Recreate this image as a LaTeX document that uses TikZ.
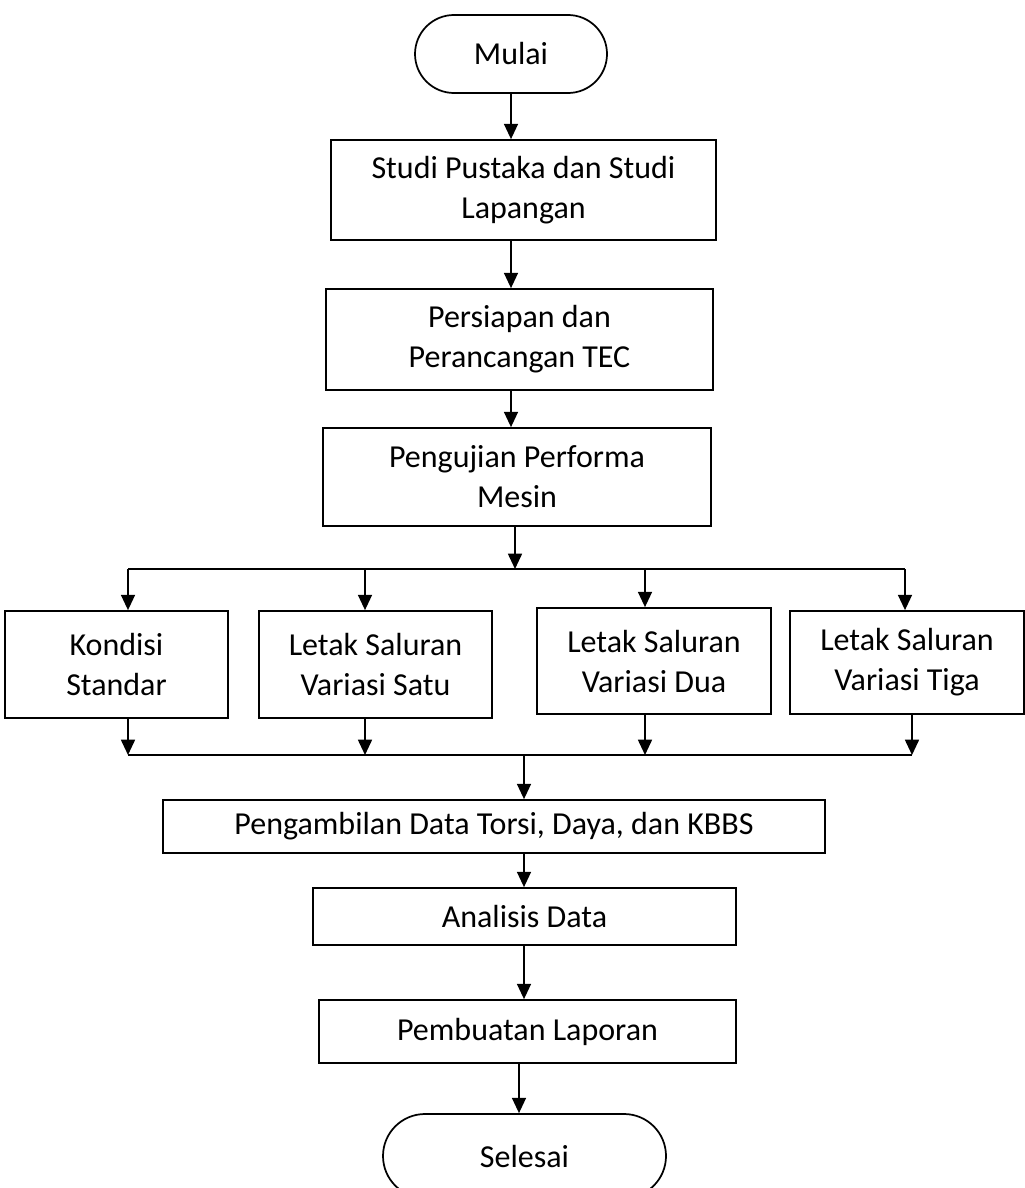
\documentclass[tikz,border=0pt]{standalone}
\usepackage{fontspec}
\setmainfont{Carlito}
\usetikzlibrary{arrows.meta,shapes.misc}
\def\pu{0.75pt}
\begin{document}
\begin{tikzpicture}[x=0.75pt,y=-0.75pt,
  font=\fontsize{24}{30}\selectfont,
  stepbox/.style={draw,line width=1.3pt,inner sep=0pt,align=center},
  term/.style={draw,line width=1.3pt,rounded rectangle,inner sep=0pt,align=center},
  arr/.style={line width=1.3pt,-{Triangle[length=11.5pt,width=10.5pt]}},
  ln/.style={line width=1.3pt}]
\useasboundingbox (0,0) rectangle (1024,1188);
\node[term,minimum width=192*\pu,minimum height=78*\pu] (mulai) at (511,54) {Mulai};
\node[stepbox,minimum width=385*\pu,minimum height=100*\pu] (b1) at (523.5,190) {Studi Pustaka dan Studi\\Lapangan};
\node[stepbox,minimum width=387*\pu,minimum height=101*\pu] (b2) at (519.5,339.5) {Persiapan dan\\Perancangan TEC};
\node[stepbox,minimum width=388*\pu,minimum height=98*\pu] (b3) at (517,477) {Pengujian Performa\\Mesin};
\node[stepbox,minimum width=223*\pu,minimum height=107*\pu] (k) at (116.5,664.5) {Kondisi\\Standar};
\node[stepbox,minimum width=233*\pu,minimum height=107*\pu] (l1) at (375.5,664.5) {Letak Saluran\\Variasi Satu};
\node[stepbox,minimum width=234*\pu,minimum height=106*\pu] (l2) at (654,661) {Letak Saluran\\Variasi Dua};
\node[stepbox,minimum width=234*\pu,minimum height=103*\pu] (l3) at (907,662.5) {Letak Saluran\\Variasi Tiga};
\node[stepbox,minimum width=662*\pu,minimum height=53*\pu] (p) at (494,826.5) {Pengambilan Data Torsi, Daya, dan KBBS};
\node[stepbox,minimum width=423*\pu,minimum height=57*\pu] (a) at (524.5,916.5) {Analisis Data};
\node[stepbox,minimum width=417*\pu,minimum height=63*\pu] (lap) at (527.5,1031.5) {Pembuatan Laporan};
\node[term,minimum width=283*\pu,minimum height=84*\pu] (sel) at (524.5,1156) {Selesai};
% coordinates
\coordinate (c0) at (511,0);
\coordinate (cb) at (515,569);
\coordinate (s1) at (128,569);
\coordinate (s2) at (365,569);
\coordinate (s3) at (645,569);
\coordinate (s4) at (905,569);
\coordinate (m1) at (128,755);
\coordinate (m2) at (365,755);
\coordinate (m3) at (645,755);
\coordinate (m4) at (912,755);
\coordinate (mc) at (524,755);
\coordinate (pc) at (524,0);
\coordinate (lc) at (519,0);
% connectors
\draw[arr] (mulai.south) -- (mulai.south |- b1.north);
\draw[arr] (b1.south -| c0) -- (b2.north -| c0);
\draw[arr] (b2.south -| c0) -- (b3.north -| c0);
\draw[arr] (b3.south -| cb) -- (cb);
\draw[ln] (s1) -- (s4);
\draw[arr] (s1) -- (s1 |- k.north);
\draw[arr] (s2) -- (s2 |- l1.north);
\draw[arr] (s3) -- (s3 |- l2.north);
\draw[arr] (s4) -- (s4 |- l3.north);
\draw[arr] (m1 |- k.south) -- (m1);
\draw[arr] (m2 |- l1.south) -- (m2);
\draw[arr] (m3 |- l2.south) -- (m3);
\draw[arr] (m4 |- l3.south) -- (m4);
\draw[ln] (m1) -- (m4);
\draw[arr] (mc) -- (mc |- p.north);
\draw[arr] (p.south -| pc) -- (a.north -| pc);
\draw[arr] (a.south -| pc) -- (lap.north -| pc);
\draw[arr] (lap.south -| lc) -- (sel.north -| lc);
\end{tikzpicture}
\end{document}
